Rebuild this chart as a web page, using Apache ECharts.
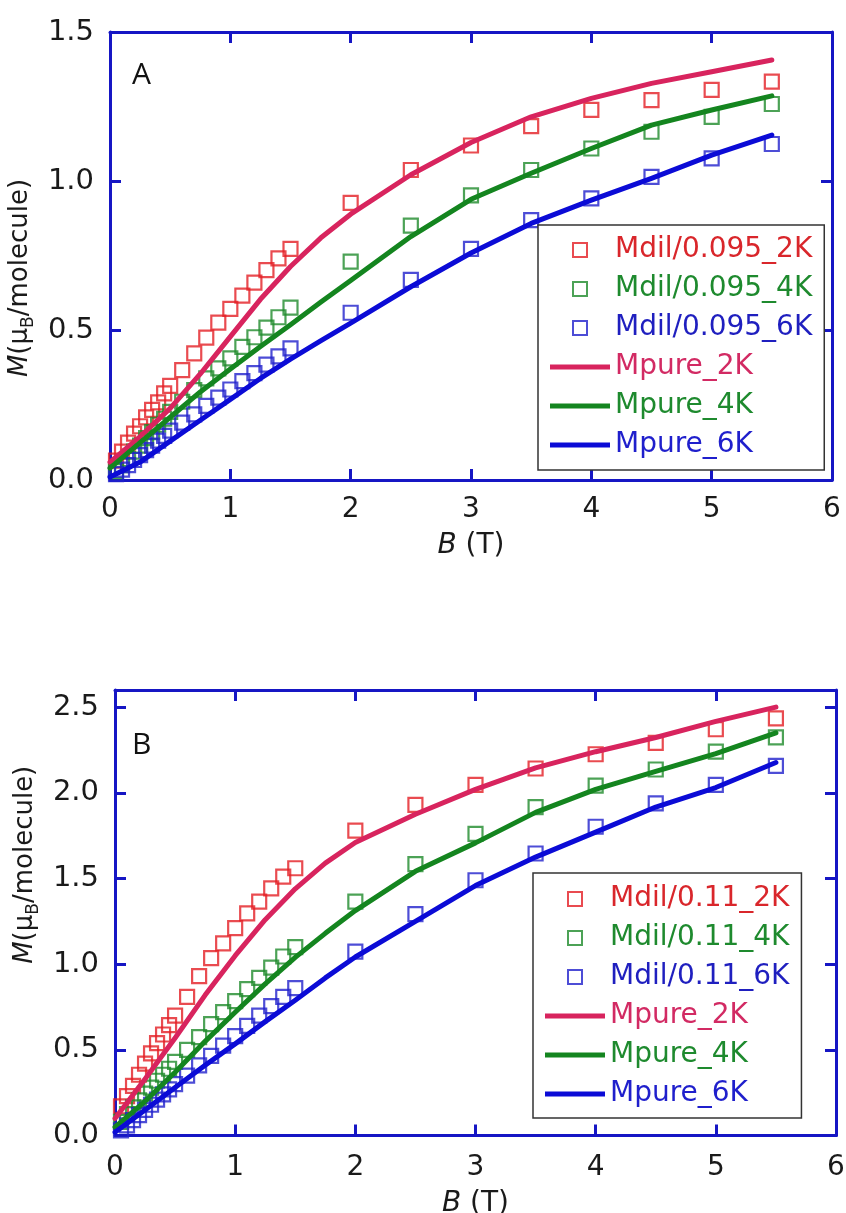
<!DOCTYPE html>
<html><head><meta charset="utf-8">
<script src="https://cdn.jsdelivr.net/npm/echarts@6/dist/echarts.min.js"></script>
<style>html,body{margin:0;padding:0;background:#fff}#c{width:846px;height:1213px}</style>
</head><body><div id="c"></div>
<script>
// ---- data ----
const B_MEAS = [0.05,0.1,0.15,0.2,0.25,0.3,0.35,0.4,0.45,0.5,0.6,0.7,0.8,0.9,1.0,1.1,1.2,1.3,1.4,1.5,2,2.5,3,3.5,4,4.5,5,5.5];
const B_FIT = [0,0.25,0.5,0.75,1,1.25,1.5,1.75,2,2.5,3,3.5,4,4.5,5,5.5];

const A_DIL_2K = [0.065,0.095,0.125,0.155,0.18,0.21,0.235,0.26,0.29,0.315,0.368,0.424,0.477,0.527,0.573,0.617,0.661,0.703,0.742,0.774,0.928,1.038,1.12,1.185,1.239,1.272,1.306,1.334];
const A_DIL_4K = [0.03,0.05,0.07,0.095,0.115,0.14,0.16,0.185,0.205,0.228,0.262,0.301,0.34,0.374,0.407,0.446,0.478,0.51,0.545,0.577,0.731,0.852,0.953,1.038,1.11,1.166,1.216,1.259];
const A_DIL_6K = [0.02,0.035,0.05,0.067,0.083,0.1,0.115,0.132,0.148,0.165,0.192,0.22,0.248,0.276,0.303,0.331,0.358,0.386,0.414,0.441,0.56,0.67,0.774,0.87,0.943,1.015,1.077,1.125];
const A_PURE_2K = [0.06,0.145,0.24,0.355,0.48,0.605,0.715,0.81,0.89,1.022,1.13,1.216,1.278,1.328,1.367,1.406];
const A_PURE_4K = [0.04,0.125,0.21,0.295,0.372,0.447,0.52,0.595,0.668,0.815,0.94,1.027,1.11,1.188,1.239,1.286];
const A_PURE_6K = [0.01,0.06,0.13,0.2,0.27,0.34,0.405,0.466,0.525,0.647,0.76,0.859,0.937,1.01,1.088,1.155];

const B_DIL_2K = [0.17,0.23,0.29,0.355,0.42,0.48,0.54,0.59,0.645,0.70,0.81,0.93,1.035,1.122,1.21,1.297,1.365,1.443,1.511,1.56,1.78,1.93,2.046,2.142,2.225,2.292,2.371,2.434];
const B_DIL_4K = [0.08,0.125,0.165,0.205,0.245,0.28,0.32,0.355,0.39,0.43,0.50,0.575,0.65,0.72,0.785,0.855,0.92,0.98,1.045,1.10,1.365,1.584,1.761,1.917,2.042,2.136,2.24,2.323];
const B_DIL_6K = [0.03,0.06,0.09,0.12,0.15,0.18,0.21,0.24,0.27,0.30,0.35,0.41,0.465,0.525,0.58,0.64,0.70,0.755,0.81,0.86,1.073,1.292,1.49,1.646,1.802,1.938,2.046,2.157];
const B_PURE_2K = [0.10,0.33,0.57,0.82,1.05,1.26,1.44,1.59,1.71,1.875,2.02,2.146,2.24,2.323,2.417,2.50];
const B_PURE_4K = [0.05,0.20,0.37,0.55,0.72,0.885,1.04,1.18,1.313,1.542,1.708,1.886,2.02,2.125,2.229,2.35];
const B_PURE_6K = [0.02,0.15,0.28,0.41,0.535,0.665,0.79,0.92,1.042,1.25,1.459,1.625,1.771,1.917,2.031,2.177];

const X_TICKS = ['0','1','2','3','4','5','6'];
const Y_TICKS_A = ['0.0','0.5','1.0','1.5'];
const Y_TICKS_B = ['0.0','0.5','1.0','1.5','2.0','2.5'];

const NAMES_A = ['Mdil/0.095_2K','Mdil/0.095_4K','Mdil/0.095_6K'];
const NAMES_B = ['Mdil/0.11_2K','Mdil/0.11_4K','Mdil/0.11_6K'];
const NAMES_PURE = ['Mpure_2K','Mpure_4K','Mpure_6K'];

// ---- styles ----
const FRAME = '#1616c4';
const SQ_COL = ['#e31e24','#1f8b2c','#2020cc'];
const LN_COL = ['#d8245e','#14851f','#0b0bd6'];
const TXT_SQ = ['#d9262b','#1e8a2e','#1f1fbf'];
const TXT_LN = ['#d22a63','#1e8a2e','#1f1fcc'];
const FONT = 'DejaVu Sans';
const SQ_ICON = 'path://M0,0H10V10H0Z';
const LN_ICON = 'path://M0,0H120V10H0Z';

const zip = (xs, ys) => xs.map((x, i) => [x, ys[i]]);

function frameAxisX(grid, pos, showLabel, margin, nameGap) {
  const ax = {
    type:'value', gridIndex:grid, position:pos, min:0, max:6, interval:1,
    axisLine:{show:true, onZero:false, lineStyle:{color:FRAME, width:3}},
    axisTick:{show:true, inside:true, length:11, lineStyle:{color:FRAME, width:3}},
    splitLine:{show:false},
    axisLabel:{show:showLabel, color:'#1a1a1a', fontSize:28, fontFamily:FONT, margin:margin,
      formatter:(v)=>X_TICKS[Math.round(v)]}
  };
  if (showLabel) {
    ax.name = '{i|B} (T)';
    ax.nameLocation = 'middle';
    ax.nameGap = nameGap;
    ax.nameTextStyle = {color:'#1a1a1a', fontSize:28, fontFamily:FONT,
      rich:{i:{fontStyle:'italic', fontSize:28, fontFamily:FONT, color:'#1a1a1a'}}};
  }
  return ax;
}
function frameAxisY(grid, pos, showLabel, max, labels, nameGap, namePad) {
  const ax = {
    type:'value', gridIndex:grid, position:pos, min:0, max:max, interval:0.5,
    axisLine:{show:true, onZero:false, lineStyle:{color:FRAME, width:3}},
    axisTick:{show:true, inside:true, length:11, lineStyle:{color:FRAME, width:3}},
    splitLine:{show:false},
    axisLabel:{show:showLabel, color:'#1a1a1a', fontSize:29, fontFamily:FONT, margin:16, showMaxLabel: max % 0.5 === 0,
      formatter:(v)=>labels[Math.round(v*2)] || ''}
  };
  if (showLabel) {
    ax.name = '{i|M}(μ{sub|B}/molecule)';
    ax.nameLocation = 'middle';
    ax.nameRotate = 90;
    ax.nameGap = nameGap;
    ax.nameTextStyle = {color:'#1a1a1a', fontSize:26, fontFamily:FONT, padding:namePad,
      rich:{
        i:{fontStyle:'italic', fontSize:26, fontFamily:FONT, color:'#1a1a1a', lineHeight:34},
        sub:{fontSize:17, fontFamily:FONT, color:'#1a1a1a', verticalAlign:'bottom', lineHeight:17}
      }};
  }
  return ax;
}

const series = [];
function addPanel(p, dil, pure, dilNames) {
  dil.forEach((d, k) => series.push({
    type:'scatter', name:dilNames[k], xAxisIndex:2*p, yAxisIndex:2*p, data:zip(B_MEAS, d),
    symbol:'rect', symbolSize:14, z:2, silent:true,
    itemStyle:{color:'transparent', borderColor:SQ_COL[k], borderWidth:2.2}
  }));
  pure.forEach((d, k) => series.push({
    type:'line', name:NAMES_PURE[k], xAxisIndex:2*p, yAxisIndex:2*p, data:zip(B_FIT, d),
    symbol:'none', smooth:false, z:3, silent:true,
    lineStyle:{color:LN_COL[k], width:5, join:'round', cap:'round'}, itemStyle:{color:LN_COL[k]}
  }));
}
addPanel(0, [A_DIL_2K, A_DIL_4K, A_DIL_6K], [A_PURE_2K, A_PURE_4K, A_PURE_6K], NAMES_A);
addPanel(1, [B_DIL_2K, B_DIL_4K, B_DIL_6K], [B_PURE_2K, B_PURE_4K, B_PURE_6K], NAMES_B);

function legendData(dilNames) {
  return dilNames.map((n, k) => ({name:n, icon:SQ_ICON,
      itemStyle:{color:'transparent', borderColor:SQ_COL[k], borderWidth:2},
      textStyle:{color:TXT_SQ[k]}}))
    .concat(NAMES_PURE.map((n, k) => ({name:n, icon:LN_ICON,
      itemStyle:{color:LN_COL[k], borderWidth:0},
      textStyle:{color:TXT_LN[k]}})));
}
function legend(left, top, pad, dilNames) {
  return {
    orient:'vertical', left:left, top:top, itemWidth:60, itemHeight:14, itemGap:11,
    padding:pad, borderColor:'#333', borderWidth:1.5, backgroundColor:'#fff',
    symbolKeepAspect:true, selectedMode:false,
    textStyle:{fontSize:28, fontFamily:FONT},
    data:legendData(dilNames)
  };
}

const option = {
  animation:false,
  backgroundColor:'#fff',
  title:[
    {text:'A', left:132, top:60, padding:0, textStyle:{fontSize:30, fontWeight:'normal', fontFamily:'Open Sans', color:'#111'}},
    {text:'B', left:132, top:730, padding:0, textStyle:{fontSize:30, fontWeight:'normal', fontFamily:'Open Sans', color:'#111'}}
  ],
  grid:[
    {left:110, top:32, width:722, height:448, outerBoundsMode:'none', containLabel:false},
    {left:115, top:690, width:721, height:445.6, outerBoundsMode:'none', containLabel:false}
  ],
  xAxis:[
    frameAxisX(0,'bottom',true,16,52),
    frameAxisX(0,'top',false,0,0),
    frameAxisX(1,'bottom',true,18,54),
    frameAxisX(1,'top',false,0,0)
  ],
  yAxis:[
    frameAxisY(0,'left',true,1.5,Y_TICKS_A,68,[0,44,0,0]),
    frameAxisY(0,'right',false,1.5,Y_TICKS_A,0,0),
    frameAxisY(1,'left',true,2.6,Y_TICKS_B,70,[0,0,0,96]),
    frameAxisY(1,'right',false,2.6,Y_TICKS_B,0,0)
  ],
  legend:[
    legend(538, 225, [11,12,11,12], NAMES_A),
    legend(533, 873, [12,12,10,12], NAMES_B)
  ],
  series:series
};
const chart = echarts.init(document.getElementById('c'), null, {renderer:'canvas'});
chart.setOption(option);
</script>
</body></html>
